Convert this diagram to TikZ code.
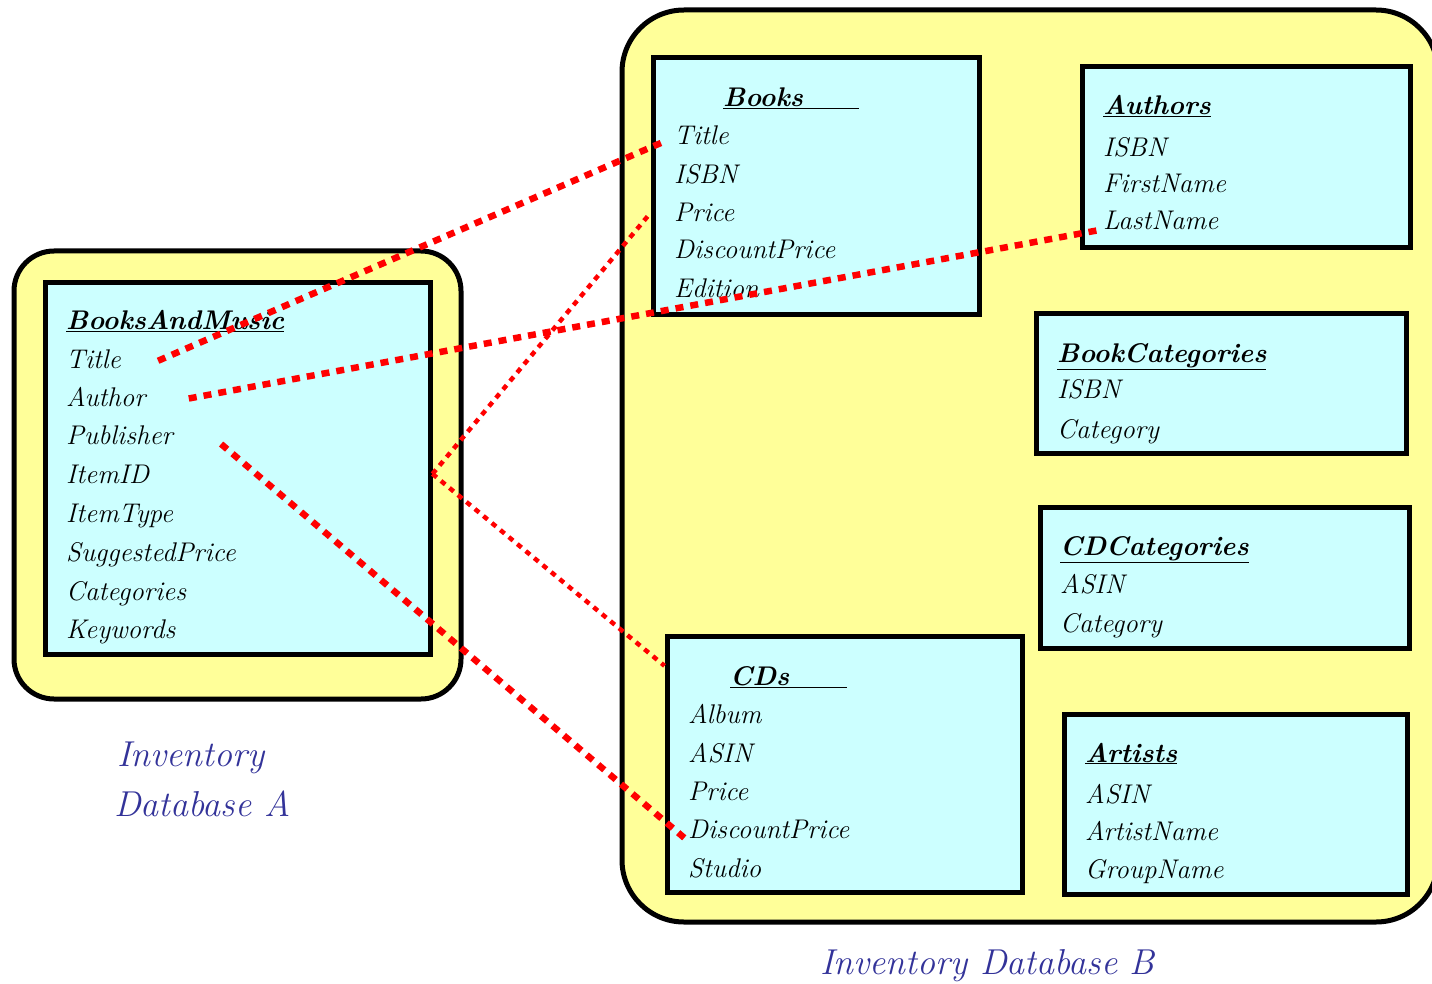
\documentclass[tikz,border=0pt]{standalone}
\usepackage{fontspec}
\begin{document}
\begin{tikzpicture}[x=1pt,y=-1pt,
  dbframe/.style={draw=black, fill=dbyellow, line width=5pt, rounded corners=#1},
  tablebox/.style={draw=black, fill=tabcyan, line width=5pt, inner sep=0pt},
  fieldtext/.style={anchor=base west, inner sep=0pt, font=\fontsize{27}{31}\selectfont\itshape},
  headtext/.style={anchor=base west, inner sep=0pt, font=\fontsize{27}{31}\selectfont\bfseries\itshape},
  dblabel/.style={anchor=base west, inner sep=0pt, text=labelblue, font=\fontsize{36}{40}\selectfont\itshape},
  thicklink/.style={draw=red, line width=6.5pt, dash pattern=on 8pt off 7pt},
  thinlink/.style={draw=red, line width=4.5pt, dash pattern=on 5.5pt off 5.5pt}]
\definecolor{dbyellow}{RGB}{255,255,153}
\definecolor{tabcyan}{RGB}{204,255,255}
\definecolor{labelblue}{RGB}{51,51,153}
\useasboundingbox (0,0) rectangle (1432,984);
\clip (0,0) rectangle (1432,984);

% database frames
\node[dbframe=40pt, minimum width=447pt, minimum height=448pt] (dbA) at (237.5,475) {};
\node[dbframe=62pt, minimum width=816pt, minimum height=912pt] (dbB) at (1030,466) {};

% table boxes
\node[tablebox, minimum width=385pt, minimum height=371pt] (bm) at (237.5,468.5) {};
\node[tablebox, minimum width=326pt, minimum height=256pt] (books) at (816,186) {};
\node[tablebox, minimum width=328pt, minimum height=181pt] (authors) at (1246,157.5) {};
\node[tablebox, minimum width=370pt, minimum height=140pt] (bookcat) at (1221,383) {};
\node[tablebox, minimum width=369pt, minimum height=141pt] (cdcat) at (1224.5,577.5) {};
\node[tablebox, minimum width=355pt, minimum height=256pt] (cds) at (844.5,764) {};
\node[tablebox, minimum width=343pt, minimum height=180pt] (artists) at (1235.5,804) {};

% BooksAndMusic
\node[headtext] (bmHead) at (66,330) {\underline{BooksAndMusic}};
\node[fieldtext] (bmTitle) at (66,368) {Title};
\node[fieldtext] (bmAuthor) at (66,406) {Author};
\node[fieldtext] (bmPub) at (66,444) {Publisher};
\node[fieldtext] (bmItemID) at (66,483) {ItemID};
\node[fieldtext] (bmItemType) at (66,522) {ItemType};
\node[fieldtext] (bmPrice) at (66,561) {SuggestedPrice};
\node[fieldtext] (bmCat) at (66,600) {Categories};
\node[fieldtext] (bmKey) at (66,638) {Keywords};

% Books
\node[headtext] (bHead) at (723,107) {\underline{Books\hspace*{56pt}}};
\node[fieldtext] (bTitle) at (674,145) {Title};
\node[fieldtext] (bISBN) at (674,184) {ISBN};
\node[fieldtext] (bPrice) at (674,222) {Price};
\node[fieldtext] (bDisc) at (674,259) {DiscountPrice};
\node[fieldtext] (bEd) at (674,298) {Edition};

% Authors
\node[headtext] (aHead) at (1103,115) {\underline{Authors}};
\node[fieldtext] (aISBN) at (1103,157) {ISBN};
\node[fieldtext] (aFirst) at (1103,193) {FirstName};
\node[fieldtext] (aLast) at (1103,230) {LastName};

% BookCategories
\node[headtext] (bcHead) at (1057,362) {\underline{BookCategories}};
\node[fieldtext] (bcISBN) at (1057,398) {ISBN};
\node[fieldtext] (bcCat) at (1057,438) {Category};

% CDCategories
\node[headtext] (ccHead) at (1060,555) {\underline{CDCategories}};
\node[fieldtext] (ccASIN) at (1060,593) {ASIN};
\node[fieldtext] (ccCat) at (1060,632) {Category};

% CDs
\node[headtext] (cHead) at (730,685) {\underline{CDs\hspace*{58pt}}};
\node[fieldtext] (cAlbum) at (688,723) {Album};
\node[fieldtext] (cASIN) at (688,762) {ASIN};
\node[fieldtext] (cPrice) at (688,800) {Price};
\node[fieldtext] (cDisc) at (688,838) {DiscountPrice};
\node[fieldtext] (cStudio) at (688,877) {Studio};

% Artists
\node[headtext] (arHead) at (1085,762) {\underline{Artists}};
\node[fieldtext] (arASIN) at (1085,803) {ASIN};
\node[fieldtext] (arName) at (1085,840) {ArtistName};
\node[fieldtext] (arGroup) at (1085,878) {GroupName};

% database captions
\node[dblabel] (capA1) at (117,766) {Inventory};
\node[dblabel] (capA2) at (114,816) {Database A};
\node[dblabel] (capB) at (820,974) {Inventory Database B};

% attribute correspondences
\coordinate (itemOut) at (bmItemID -| bm.east);
\draw[thicklink] ([xshift=37pt,yshift=-2pt]bmTitle.east) -- ([xshift=-8pt,yshift=-5pt]bTitle.west);
\draw[thicklink] ([xshift=43pt,yshift=-2pt]bmAuthor.east) -- ([xshift=-6pt]aLast.south west);
\draw[thicklink] ([xshift=48pt]bmPub.base east) -- ([xshift=-3pt]cDisc.south west);
\draw[thinlink] (itemOut) -- (bPrice -| books.west);
\draw[thinlink] (itemOut) -- (cHead.north -| cds.west);
\end{tikzpicture}
\end{document}
